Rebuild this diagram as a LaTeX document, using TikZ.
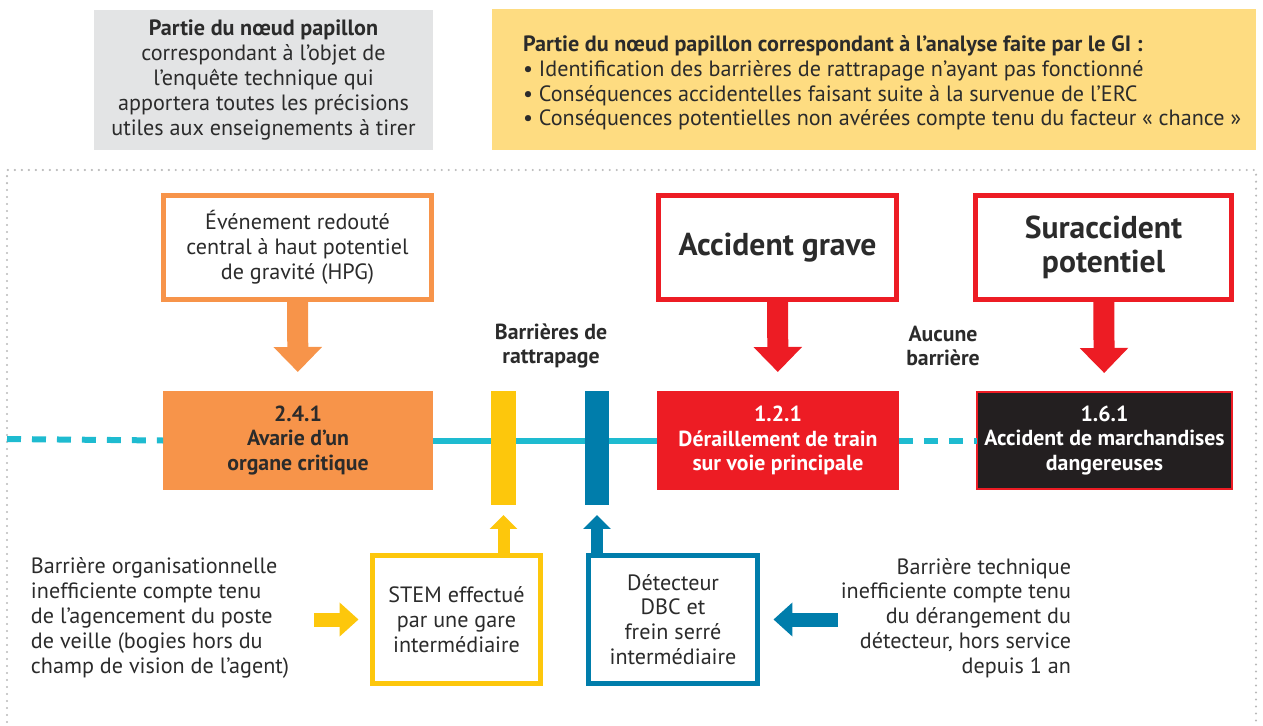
\documentclass[tikz,border=0pt]{standalone}
\usepackage{fontspec}
\setmainfont{PT Sans}
\usetikzlibrary{positioning,arrows.meta}
\definecolor{bporange}{HTML}{F7944A}
\definecolor{bpred}{HTML}{ED1C24}
\definecolor{bpyellow}{HTML}{FDC70C}
\definecolor{bpblue}{HTML}{007DAB}
\definecolor{bpteal}{HTML}{1EBBD0}
\definecolor{bpsand}{HTML}{FEDC81}
\definecolor{bpgray}{HTML}{E3E4E5}
\definecolor{bpblack}{HTML}{231F20}
\definecolor{bptext}{HTML}{2B2B2B}

\begin{document}
\begin{tikzpicture}[x=0.02cm, y=-0.02cm,
    every node/.style={inner sep=0pt, outer sep=0pt, text=bptext, align=center},
    txt/.style={font=\fontsize{12.6}{14.1}\selectfont},
    boldtxt/.style={font=\fontsize{12.4}{14.1}\selectfont\bfseries},
    big/.style={font=\fontsize{18}{19.5}\selectfont\bfseries},
    framebox/.style={draw, line width=0.1cm, fill=white, txt},
    bar/.style={minimum width=#1, minimum height=2.28cm},
    fat/.style={line width=0.42cm, -{Triangle[length=0.5cm, width=0.94cm]}},
    slim/.style={line width=0.28cm, -{Triangle[length=0.38cm, width=0.66cm]}},
    axis/.style={bpteal, line width=0.12cm},
    gap/.style={axis, dash pattern=on 0.28cm off 0.22cm}
]
    \useasboundingbox (0,0) rectangle (1263,726);

    % header boxes
    \node[fill=bpgray, minimum width=6.78cm, minimum height=2.82cm, txt] (scope) at (263.5,80)
        {\textbf{Partie du nœud papillon}\\correspondant à l’objet de\\l’enquête technique qui\\apportera toutes les précisions\\utiles aux enseignements à tirer};
    \node[fill=bpsand, minimum width=15.28cm, minimum height=2.82cm] (gi) at (874,79.5) {};
    \node[txt, align=left, anchor=west] (gitext) at (523,83)
        {\textbf{Partie du nœud papillon correspondant à l’analyse faite par le GI :}\\
         \textbullet\ Identification des barrières de rattrapage n’ayant pas fonctionné\\
         \textbullet\ Conséquences accidentelles faisant suite à la survenue de l’ERC\\
         \textbullet\ Conséquences potentielles non avérées compte tenu du facteur «~chance~»};

    % dotted frame
    \draw[gray!55, line width=1.3pt, line cap=round, dash pattern=on 0pt off 0.14cm]
        (7,722) -- (7,170) -- (1256,170) -- (1256,722);

    % upper boxes
    \node[framebox, draw=bporange, minimum width=5.36cm, minimum height=2.08cm] (erc) at (297.5,247.5)
        {Événement redouté\\central à haut potentiel\\de gravité (HPG)};
    \node[framebox, draw=bpred, minimum width=4.76cm, minimum height=2.08cm, big] (grave) at (777.5,247.5)
        {Accident grave};
    \node[framebox, draw=bpred, minimum width=5.12cm, minimum height=2.08cm, big] (sur) at (1103.5,247.5)
        {Suraccident\\potentiel};

    % events on the line
    \coordinate (lstart) at (7,439);
    \node[boldtxt, fill=bporange, minimum width=5.4cm, minimum height=1.98cm] (avarie) at (298,440.5)
        {2.4.1\\Avarie d’un\\organe critique};
    \node[boldtxt, fill=bpred, text=white, minimum width=4.84cm, minimum height=1.98cm] (derail) at (778,440.5)
        {1.2.1\\Déraillement de train\\sur voie principale};
    \node[boldtxt, fill=bpblack, draw=bpred, line width=0.04cm, text=white,
          minimum width=5.12cm, minimum height=1.94cm] (md) at (1104.5,440.5)
        {1.6.1\\Accident de marchandises\\dangereuses};

    \draw[gap] (lstart) -- (avarie.west);
    \draw[axis] (avarie.east) -- (derail.west);
    \draw[gap] (derail.east) -- (md.west);

    % barriers
    \node[bar=0.5cm, fill=bpyellow] (ybar) at (503.5,448) {};
    \node[bar=0.48cm, fill=bpblue] (bbar) at (597,448) {};
    \node[boldtxt] (rattr) at (551,346) {Barrières de\\rattrapage};
    \node[boldtxt] (aucune) at (943,346) {Aucune\\barrière};

    \node[framebox, draw=bpyellow, minimum width=3.36cm, minimum height=2.56cm] (stem) at (456.5,619.5)
        {STEM effectué\\par une gare\\intermédiaire};
    \node[framebox, draw=bpblue, minimum width=3.38cm, minimum height=2.56cm] (dbc) at (673,619.5)
        {Détecteur\\DBC et\\frein serré\\intermédiaire};

    \node[txt, align=left, anchor=west] (orga) at (31,618)
        {Barrière organisationnelle\\inefficiente compte tenu\\de l’agencement du poste\\de veille (bogies hors du\\champ de vision de l’agent)};
    \node[txt, align=right, anchor=east] (tech) at (1071,618)
        {Barrière technique\\inefficiente compte tenu\\du dérangement du\\détecteur, hors service\\depuis 1 an};

    % arrows
    \draw[fat, bporange, shorten >=0.38cm] (erc) -- (avarie);
    \draw[fat, bpred, shorten >=0.38cm] (grave) -- (derail);
    \draw[fat, bpred, shorten >=0.38cm] (sur) -- (md);
    \draw[line width=0.24cm, bpyellow, -{Triangle[length=0.28cm, width=0.54cm]}, shorten >=0.2cm]
        (ybar.south |- stem.north) -- (ybar.south);
    \draw[line width=0.24cm, bpblue, -{Triangle[length=0.28cm, width=0.54cm]}, shorten >=0.2cm]
        (bbar.south |- dbc.north) -- (bbar.south);
    \draw[slim, bpyellow, shorten <=0.5cm, shorten >=0.28cm] (orga.east |- stem.west) -- (stem.west);
    \draw[slim, bpblue, shorten <=0.06cm, shorten >=0.32cm] (tech.west |- dbc.east) -- (dbc.east);
\end{tikzpicture}
\end{document}
